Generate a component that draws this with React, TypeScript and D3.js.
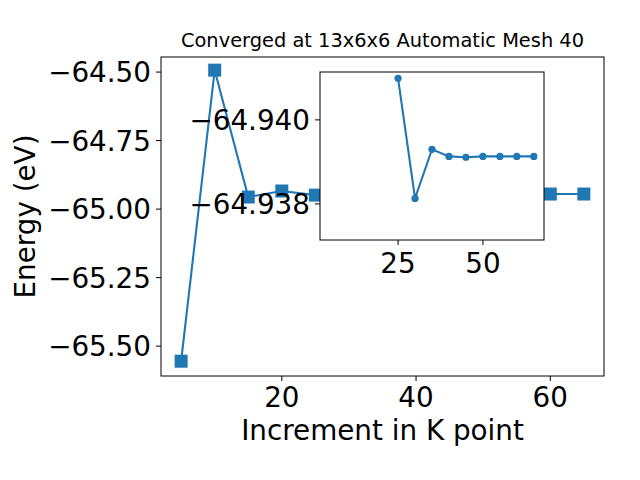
import React from "react";
import { useEffect, useRef } from "react";
import * as d3 from "d3";

// main sweep: k-point increment vs energy
const kpoints = [5, 10, 15, 20, 25, 30, 35, 40, 45, 50, 55, 60, 65];
const energies = [
  -65.555, -64.493, -64.956, -64.934, -64.949, -64.947, -64.944, -64.945,
  -64.945, -64.945, -64.945, -64.945, -64.945,
];

// zoomed view of the tail
const insetK = [25, 30, 35, 40, 45, 50, 55, 60, 65];
const insetE = [
  -64.94099, -64.93813, -64.9393, -64.93913, -64.93911, -64.93913, -64.93913,
  -64.93913, -64.93913,
];

const xTicks = [20, 40, 60];
const yTicks = [-64.5, -64.75, -65.0, -65.25, -65.5];
const insetXTicks = [25, 50];
const insetYTicks = [-64.94, -64.938];

const title = "Converged at 13x6x6 Automatic Mesh 40";
const xLabel = "Increment in K point";
const yLabel = "Energy (eV)";

const W = 640;
const H = 480;
const blue = "#1f77b4";
const font = "DejaVu Sans, sans-serif";
const big = 27.8;

const App = () => {
  const canvas = useRef(null);

  useEffect(() => {
    const svg = d3.select(canvas.current);
    svg.selectAll("*").remove();

    const box = { left: 161, right: 604, top: 57, bottom: 376 };
    const x = d3.scaleLinear().domain([2, 68]).range([box.left, box.right]);
    const y = d3
      .scaleLinear()
      .domain([-65.609, -64.445])
      .range([box.bottom, box.top]);

    svg
      .append("rect")
      .attr("x", box.left)
      .attr("y", box.top)
      .attr("width", box.right - box.left)
      .attr("height", box.bottom - box.top)
      .attr("fill", "white");

    const line = d3
      .line<number>()
      .x((d, i) => x(kpoints[i]))
      .y((d) => y(d));

    svg
      .append("path")
      .datum(energies)
      .attr("d", line)
      .attr("fill", "none")
      .attr("stroke", blue)
      .attr("stroke-width", 2.1);

    const sq = 13;
    svg
      .selectAll("rect.pt")
      .data(energies)
      .enter()
      .append("rect")
      .attr("class", "pt")
      .attr("x", (d, i) => x(kpoints[i]) - sq / 2)
      .attr("y", (d) => y(d) - sq / 2)
      .attr("width", sq)
      .attr("height", sq)
      .attr("fill", blue);

    svg
      .append("rect")
      .attr("x", box.left)
      .attr("y", box.top)
      .attr("width", box.right - box.left)
      .attr("height", box.bottom - box.top)
      .attr("fill", "none")
      .attr("stroke", "black")
      .attr("stroke-width", 1);

    const fmt2 = d3.format(".2f");
    const fmt3 = d3.format(".3f");

    // main ticks
    xTicks.forEach((t) => {
      svg
        .append("line")
        .attr("x1", x(t))
        .attr("x2", x(t))
        .attr("y1", box.bottom)
        .attr("y2", box.bottom + 5)
        .attr("stroke", "black");
      svg
        .append("text")
        .text(t)
        .attr("x", x(t))
        .attr("y", 407)
        .attr("text-anchor", "middle")
        .attr("font-size", big)
        .attr("font-family", font);
    });
    yTicks.forEach((t) => {
      svg
        .append("line")
        .attr("x1", box.left - 5)
        .attr("x2", box.left)
        .attr("y1", y(t))
        .attr("y2", y(t))
        .attr("stroke", "black");
      svg
        .append("text")
        .text(fmt2(t))
        .attr("x", box.left - 10)
        .attr("y", y(t) + 10)
        .attr("text-anchor", "end")
        .attr("font-size", big)
        .attr("font-family", font);
    });

    svg
      .append("text")
      .text(title)
      .attr("x", (box.left + box.right) / 2)
      .attr("y", 47)
      .attr("text-anchor", "middle")
      .attr("font-size", 19.4)
      .attr("font-family", font);

    svg
      .append("text")
      .text(xLabel)
      .attr("x", (box.left + box.right) / 2)
      .attr("y", 440)
      .attr("text-anchor", "middle")
      .attr("font-size", big)
      .attr("font-family", font);

    svg
      .append("text")
      .text(yLabel)
      .attr(
        "transform",
        `translate(35,${(box.top + box.bottom) / 2}) rotate(-90)`
      )
      .attr("text-anchor", "middle")
      .attr("font-size", big)
      .attr("font-family", font);

    // inset
    const ib = { left: 320, right: 544, top: 72, bottom: 240 };
    const ix = d3.scaleLinear().domain([2, 68]).range([ib.left, ib.right]);
    const iy = d3
      .scaleLinear()
      .domain([-64.94114, -64.93714])
      .range([ib.top, ib.bottom]);

    svg
      .append("rect")
      .attr("x", ib.left)
      .attr("y", ib.top)
      .attr("width", ib.right - ib.left)
      .attr("height", ib.bottom - ib.top)
      .attr("fill", "white");

    const iline = d3
      .line<number>()
      .x((d, i) => ix(insetK[i]))
      .y((d) => iy(d));

    svg
      .append("path")
      .datum(insetE)
      .attr("d", iline)
      .attr("fill", "none")
      .attr("stroke", blue)
      .attr("stroke-width", 2.1);

    svg
      .selectAll("circle.ipt")
      .data(insetE)
      .enter()
      .append("circle")
      .attr("class", "ipt")
      .attr("cx", (d, i) => ix(insetK[i]))
      .attr("cy", (d) => iy(d))
      .attr("r", 3.6)
      .attr("fill", blue);

    svg
      .append("rect")
      .attr("x", ib.left)
      .attr("y", ib.top)
      .attr("width", ib.right - ib.left)
      .attr("height", ib.bottom - ib.top)
      .attr("fill", "none")
      .attr("stroke", "black")
      .attr("stroke-width", 1);

    insetXTicks.forEach((t) => {
      svg
        .append("line")
        .attr("x1", ix(t))
        .attr("x2", ix(t))
        .attr("y1", ib.bottom)
        .attr("y2", ib.bottom + 5)
        .attr("stroke", "black");
      svg
        .append("text")
        .text(t)
        .attr("x", ix(t))
        .attr("y", 273)
        .attr("text-anchor", "middle")
        .attr("font-size", big)
        .attr("font-family", font);
    });
    insetYTicks.forEach((t) => {
      svg
        .append("line")
        .attr("x1", ib.left - 5)
        .attr("x2", ib.left)
        .attr("y1", iy(t))
        .attr("y2", iy(t))
        .attr("stroke", "black");
      svg
        .append("text")
        .text(fmt3(t))
        .attr("x", ib.left - 10)
        .attr("y", iy(t) + 10)
        .attr("text-anchor", "end")
        .attr("font-size", big)
        .attr("font-family", font);
    });
  }, []);

  return (
    <div style={{ position: "absolute", left: 0, top: 0 }}>
      <svg
        width={W}
        height={H}
        viewBox={`0 0 ${W} ${H}`}
        style={{ display: "block", backgroundColor: "white" }}
        ref={canvas}
      ></svg>
    </div>
  );
};

export default App;
